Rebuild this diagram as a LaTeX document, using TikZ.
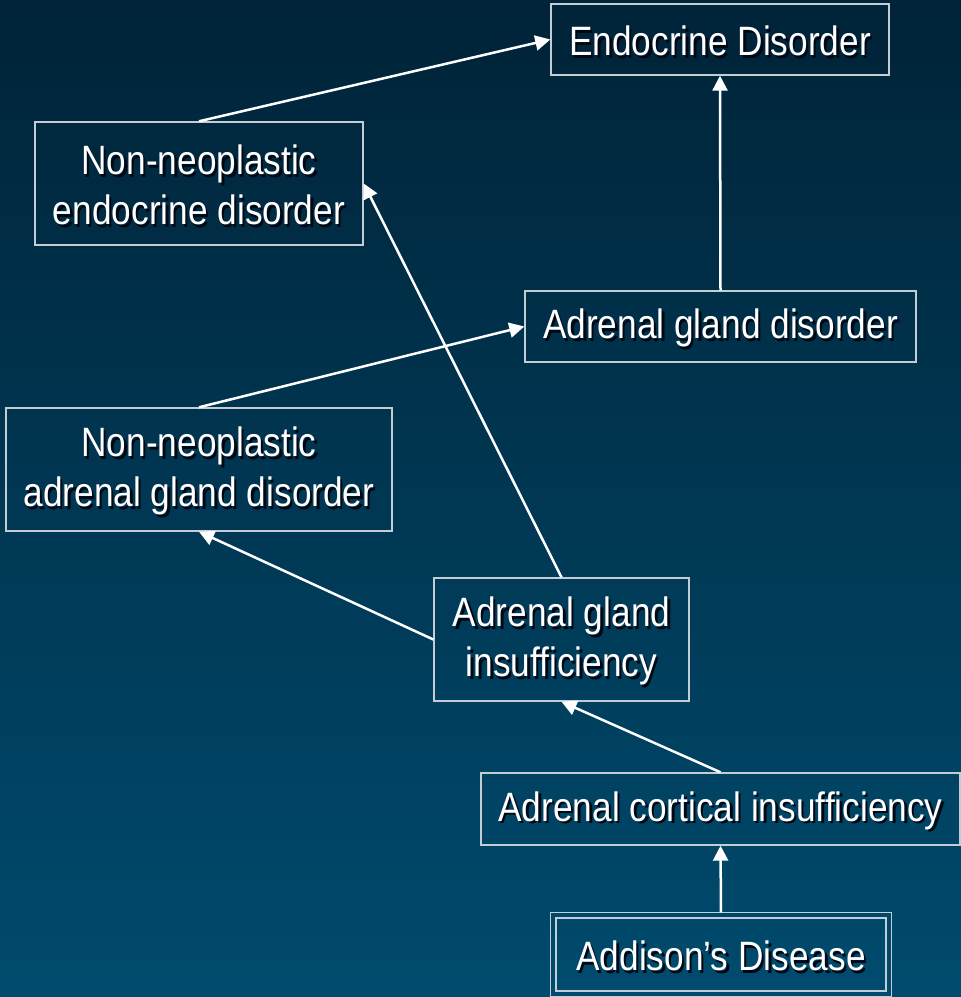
\documentclass[tikz,border=0pt]{standalone}
\usepackage{fontspec}
\setmainfont[FakeStretch=0.86]{Liberation Sans}
\usetikzlibrary{arrows.meta}
\definecolor{bgtop}{HTML}{002338}
\definecolor{bgbot}{HTML}{004B6E}
\definecolor{boxline}{HTML}{C4CCD4}
\definecolor{shadowc}{HTML}{000814}
\newcommand{\shtext}[1]{\rlap{\hspace{2.4pt}\raisebox{-2.4pt}{\color{shadowc}#1}}#1}
\begin{document}
\begin{tikzpicture}[x=1pt,y=1pt,
  box/.style={draw=boxline, line width=1.4pt, rectangle, inner sep=0pt},
  lbl/.style={inner sep=0pt, text=white, align=center, font=\fontsize{41}{50}\selectfont},
  arr/.style={draw=white, line width=2.5pt, -{Triangle[length=15pt,width=15pt]}}]
\shade[top color=bgtop, bottom color=bgbot] (0,0) rectangle (961,997);
\useasboundingbox (0,0) rectangle (961,997);
\node[box, minimum width=338pt, minimum height=71pt] (ed) at (720,957.5) {};
\node[box, minimum width=328pt, minimum height=123pt] (nned) at (199,813.5) {};
\node[box, minimum width=391pt, minimum height=71pt] (agd) at (720.5,670.5) {};
\node[box, minimum width=386pt, minimum height=123pt] (nnagd) at (199,527.5) {};
\node[box, minimum width=255pt, minimum height=123pt] (agi) at (561.5,357.5) {};
\node[box, minimum width=479pt, minimum height=72pt] (aci) at (720.5,188) {};
\node[box, minimum width=330pt, minimum height=73pt] (add) at (721,42.5) {};
\draw[boxline, line width=1.4pt] ([shift={(-5pt,-5pt)}]add.south west) rectangle ([shift={(5pt,5pt)}]add.north east);
\node[lbl] (edt) at ([yshift=-3pt]ed.center) {\shtext{Endocrine Disorder}};
\node[lbl] (nnedt) at ([yshift=-3pt]nned.center) {\shtext{Non-neoplastic}\\\shtext{endocrine disorder}};
\node[lbl] (agdt) at ([yshift=-3pt]agd.center) {\shtext{Adrenal gland disorder}};
\node[lbl] (nnagdt) at ([yshift=-3pt]nnagd.center) {\shtext{Non-neoplastic}\\\shtext{adrenal gland disorder}};
\node[lbl] (agit) at ([yshift=-3pt]agi.center) {\shtext{Adrenal gland}\\\shtext{insufficiency}};
\node[lbl] (acit) at ([yshift=-3pt]aci.center) {\shtext{Adrenal cortical insufficiency}};
\node[lbl] (addt) at ([yshift=-3pt]add.center) {\shtext{Addison’s Disease}};
\coordinate (addtop) at ([yshift=5pt]add.north);
\draw[arr] (nned.north) -- (ed.west);
\draw[arr] (agd.north) -- (ed.south);
\draw[arr] (agi.north) -- (nned.east);
\draw[arr] (nnagd.north) -- (agd.west);
\draw[arr] (agi.west) -- (nnagd.south);
\draw[arr] (aci.north) -- (agi.south);
\draw[arr] (addtop) -- (aci.south);
\end{tikzpicture}
\end{document}
